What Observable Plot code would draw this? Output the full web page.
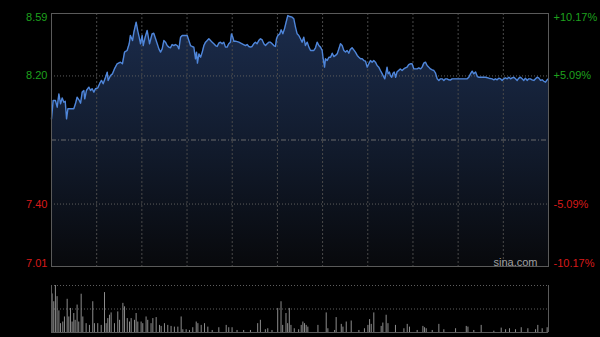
<!DOCTYPE html>
<html><head><meta charset="utf-8">
<script src="https://cdn.jsdelivr.net/npm/d3@7"></script>
<script src="https://cdn.jsdelivr.net/npm/@observablehq/plot@0.6"></script>
<style>
html,body{margin:0;padding:0;background:#000;}
#chart{width:600px;height:337px;overflow:hidden;background:#000}
#chart svg{display:block}
</style></head><body><div id="chart"></div>
<script>
// minutes since 9:30 (HK session, 330 trading minutes)
const priceTimes = [0,1.1,2.6,3.8,4.9,6.0,7.1,8.2,9.1,10.0,10.9,14.8,15.9,17.0,18.2,19.3,20.4,21.5,22.1,23.2,24.8,25.9,27.0,28.1,29.2,30.8,32.1,33.2,34.3,35.9,37.0,37.6,39.2,40.5,41.8,43.6,45.8,47.1,48.5,50.2,51.6,52.4,53.8,54.7,56.2,57.3,58.2,59.1,60.2,60.9,62.2,63.5,65.1,66.8,67.9,69.1,70.2,71.3,72.4,73.5,74.6,75.7,76.8,77.9,79.0,80.1,81.2,82.3,83.5,84.6,85.7,86.8,90.1,91.2,92.3,93.4,94.5,95.6,96.3,96.9,97.9,99.0,100.1,101.2,102.3,103.4,104.5,105.6,106.7,107.8,108.9,110.0,111.1,112.2,113.3,114.4,115.5,116.6,117.7,118.8,119.5,120.4,121.1,122.2,124.4,126.6,128.8,129.9,131.0,132.1,133.2,134.3,135.4,136.5,137.6,138.8,139.9,141.0,142.1,143.2,144.3,145.4,146.5,147.6,148.7,149.4,150.3,151.6,152.5,153.6,154.7,155.8,156.9,158.2,159.8,160.9,162.0,163.1,164.2,165.3,166.4,167.5,168.6,169.8,170.9,172.0,174.2,175.3,176.4,177.5,178.6,179.7,180.4,181.3,181.9,183.0,184.2,185.3,186.4,187.5,188.6,189.7,190.8,191.9,193.0,194.1,195.2,196.3,197.4,198.4,199.6,200.7,201.8,203.0,204.1,205.2,206.3,207.4,208.5,209.6,210.7,211.8,212.9,214.0,215.1,216.2,217.3,218.4,219.6,220.7,221.3,222.0,222.8,223.5,224.4,225.0,225.9,226.8,227.6,228.5,229.4,230.5,231.6,232.8,233.9,235.0,236.1,237.2,238.3,239.4,240.6,241.7,242.8,243.9,245.0,246.1,247.2,248.3,249.4,250.5,251.6,252.8,253.9,255.0,256.1,257.2,258.3,259.4,260.5,261.6,262.7,263.8,264.8,266.0,268.2,270.5,272.7,274.9,276.0,277.1,278.2,279.3,280.4,281.6,282.7,283.8,286.0,288.2,290.4,292.6,293.7,294.8,295.9,297.0,298.1,299.2,300.3,301.4,302.6,303.7,304.8,305.9,307.0,308.1,309.2,310.3,311.4,312.5,313.6,314.7,315.8,316.9,318.0,319.1,320.3,321.4,322.5,323.6,324.7,325.8,326.9,328.0,329.1,330];
const prices = [7.932,8.047,8.047,8.005,8.088,8.026,8.063,8.036,8.042,7.932,7.995,7.995,8.026,8.067,8.051,8.030,8.099,8.109,8.057,8.109,8.130,8.109,8.120,8.099,8.120,8.126,8.155,8.172,8.151,8.192,8.224,8.172,8.203,8.213,8.244,8.276,8.286,8.276,8.349,8.359,8.401,8.453,8.421,8.473,8.536,8.480,8.442,8.401,8.453,8.390,8.442,8.484,8.401,8.463,8.467,8.432,8.401,8.369,8.349,8.369,8.421,8.411,8.390,8.380,8.376,8.396,8.390,8.396,8.390,8.369,8.442,8.453,8.453,8.421,8.390,8.384,8.380,8.307,8.349,8.280,8.338,8.317,8.349,8.390,8.411,8.421,8.432,8.421,8.411,8.401,8.390,8.384,8.405,8.411,8.401,8.411,8.380,8.380,8.401,8.411,8.463,8.442,8.417,8.417,8.411,8.401,8.390,8.396,8.384,8.380,8.384,8.401,8.411,8.401,8.421,8.432,8.425,8.401,8.390,8.401,8.411,8.411,8.401,8.390,8.384,8.432,8.453,8.463,8.488,8.463,8.494,8.536,8.577,8.571,8.567,8.557,8.505,8.463,8.453,8.432,8.411,8.442,8.390,8.411,8.380,8.359,8.359,8.376,8.411,8.390,8.380,8.359,8.307,8.255,8.307,8.296,8.317,8.317,8.342,8.321,8.328,8.338,8.369,8.401,8.390,8.359,8.349,8.359,8.342,8.365,8.376,8.363,8.349,8.328,8.317,8.307,8.307,8.296,8.292,8.255,8.276,8.296,8.286,8.296,8.286,8.265,8.255,8.234,8.213,8.192,8.182,8.213,8.255,8.213,8.224,8.203,8.192,8.217,8.224,8.192,8.224,8.234,8.244,8.234,8.244,8.250,8.255,8.271,8.276,8.276,8.244,8.244,8.244,8.250,8.244,8.255,8.280,8.286,8.265,8.255,8.244,8.238,8.234,8.217,8.182,8.172,8.182,8.182,8.172,8.182,8.182,8.176,8.174,8.182,8.182,8.182,8.182,8.182,8.182,8.192,8.213,8.230,8.213,8.224,8.196,8.192,8.192,8.192,8.186,8.182,8.176,8.182,8.176,8.186,8.182,8.172,8.182,8.188,8.182,8.192,8.182,8.188,8.192,8.182,8.172,8.186,8.192,8.182,8.172,8.186,8.172,8.182,8.182,8.176,8.172,8.182,8.192,8.186,8.172,8.176,8.167,8.161,8.176,8.182];

const volTimes = [0.4,1.5,2.6,3.7,4.9,6.0,7.5,8.6,10.4,11.5,12.6,13.7,14.8,15.7,17.0,18.1,19.7,20.8,23.0,25.2,27.4,28.5,30.7,33.0,35.2,36.3,37.4,38.5,39.6,41.8,44.0,45.2,47.4,48.5,50.3,51.8,52.9,55.1,56.2,57.3,59.5,60.6,62.8,63.9,66.1,67.3,69.5,71.7,72.8,75.0,77.2,79.4,81.6,83.9,86.1,87.2,89.4,91.6,93.8,96.1,97.2,99.4,101.6,103.8,106.7,111.1,116.0,117.7,119.9,123.2,127.6,132.1,136.9,138.7,142.0,143.6,146.4,150.2,152.4,153.5,155.7,156.8,157.9,159.0,161.2,164.1,165.8,166.9,168.0,169.1,170.2,176.9,182.4,183.5,188.0,189.0,192.4,193.5,195.7,199.0,204.1,207.8,210.1,211.2,212.3,214.0,218.9,220.0,222.2,223.4,228.4,234.0,236.2,237.7,242.8,246.6,247.7,248.8,252.8,257.2,260.5,268.3,275.4,276.5,280.4,285.3,293.7,298.6,301.5,304.1,308.1,311.9,316.3,321.4,322.9,325.8,329.1];
const volumes = [380,303,463,353,213,87,103,153,327,153,237,103,187,120,270,103,377,153,87,70,303,87,87,70,393,87,137,170,193,87,203,120,287,253,137,103,137,120,187,103,103,87,153,120,87,137,147,70,60,87,70,60,53,53,153,27,27,20,47,103,87,70,87,53,20,47,70,47,47,20,20,20,87,120,27,37,20,237,303,70,187,87,237,70,37,27,70,103,87,70,53,70,193,37,20,147,80,53,103,113,20,37,70,127,80,193,60,93,170,87,70,37,80,53,20,60,47,37,20,80,27,37,60,53,20,70,13,43,27,37,27,47,37,27,70,37,47];

const prevClose = 7.80;
const priceTicks = [8.59, 8.20, 7.40, 7.01];
const priceLabels = ["8.59", "8.20", "7.40", "7.01"];
const pctLabels = ["+10.17%", "+5.09%", "-5.09%", "-10.17%"];
const gridMinutes = [30, 60, 90, 120, 150, 180, 210, 240, 270, 300];
const sessionEnd = 330;
const watermark = "sina.com";

const priceData = priceTimes.map((t, i) => ({t, p: prices[i]}));
const volData = volTimes.map((t, i) => ({t, v: volumes[i]}));
const tickData = priceTicks.map((p, i) => ({p, label: priceLabels[i], pct: pctLabels[i], up: p > prevClose}));
const [yMax, yMin] = [priceTicks[0], priceTicks[priceTicks.length - 1]];
const green = "#1ea01e", red = "#d81a1a";

const gradient = () => {
  const defs = d3.create("svg:defs");
  const g = defs.append("linearGradient").attr("id", "areaGrad")
    .attr("x1", 0).attr("y1", 0).attr("x2", 0).attr("y2", 1);
  g.append("stop").attr("offset", "0%").attr("stop-color", "#1b2c4c");
  g.append("stop").attr("offset", "55%").attr("stop-color", "#111a2b");
  g.append("stop").attr("offset", "100%").attr("stop-color", "#08090c");
  return defs.node();
};

const font = "'Liberation Sans', Arial, sans-serif";

const main = Plot.plot({
  width: 600, height: 270,
  marginTop: 13, marginBottom: 4, marginLeft: 51, marginRight: 52,
  style: {background: "#000", fontFamily: font, fontSize: "11px", overflow: "visible"},
  x: {domain: [0, sessionEnd], axis: null},
  y: {domain: [yMin, yMax], axis: null},
  marks: [
    gradient,
    Plot.areaY(priceData, {x: "t", y1: yMin, y2: "p", fill: "url(#areaGrad)"}),
    Plot.ruleX(gridMinutes, {stroke: "#4a4a4a", strokeDasharray: "2,2"}),
    Plot.ruleY(priceTicks.slice(1, 3), {stroke: "#5e5e5e", strokeDasharray: "1,2"}),
    Plot.ruleY([prevClose], {stroke: "#6a6a6a", strokeDasharray: "5,2,1,2"}),
    Plot.line(priceData, {x: "t", y: "p", stroke: "#4f86da", strokeWidth: 1.4}),
    Plot.frame({stroke: "#5a5a5a"}),
    Plot.text(tickData, {y: "p", text: "label", frameAnchor: "left", textAnchor: "end", dx: -4,
      fill: d => d.up ? green : red,
      lineAnchor: "middle", filter: (d, i) => i === 1 || i === 2}),
    Plot.text(tickData, {y: "p", text: "label", frameAnchor: "left", textAnchor: "end", dx: -4,
      fill: d => d.up ? green : red, lineAnchor: "top", dy: 0, filter: (d, i) => i === 0}),
    Plot.text(tickData, {y: "p", text: "label", frameAnchor: "left", textAnchor: "end", dx: -4,
      fill: d => d.up ? green : red, lineAnchor: "bottom", filter: (d, i) => i === 3}),
    Plot.text(tickData, {y: "p", text: "pct", frameAnchor: "right", textAnchor: "start", dx: 5,
      fill: d => d.up ? green : red, lineAnchor: "middle", filter: (d, i) => i === 1 || i === 2}),
    Plot.text(tickData, {y: "p", text: "pct", frameAnchor: "right", textAnchor: "start", dx: 5,
      fill: d => d.up ? green : red, lineAnchor: "top", filter: (d, i) => i === 0}),
    Plot.text(tickData, {y: "p", text: "pct", frameAnchor: "right", textAnchor: "start", dx: 5,
      fill: d => d.up ? green : red, lineAnchor: "bottom", filter: (d, i) => i === 3}),
    Plot.text([watermark], {frameAnchor: "bottom-right", textAnchor: "end", lineAnchor: "bottom",
      dx: -11, dy: -1, fill: "#a0a0a0", fontSize: 11})
  ]
});

const vmax = d3.max(volumes);
const vol = Plot.plot({
  width: 600, height: 67,
  marginTop: 15, marginBottom: 5, marginLeft: 51, marginRight: 52,
  style: {background: "#000", fontFamily: font, fontSize: "11px"},
  x: {domain: [0, sessionEnd], axis: null},
  y: {domain: [0, vmax], axis: null},
  marks: [
    Plot.ruleY([vmax, vmax / 2], {stroke: "#5e5e5e", strokeDasharray: "1,2"}),
    Plot.ruleX(volData, {x: "t", y1: 0, y2: "v", stroke: "#8c8c8c", strokeWidth: 1}),
    Plot.ruleX([0, sessionEnd], {stroke: "#5a5a5a"}),
    Plot.ruleY([0], {stroke: "#5a5a5a"})
  ]
});

const root = document.getElementById("chart");
root.append(main, vol);
</script></body></html>
